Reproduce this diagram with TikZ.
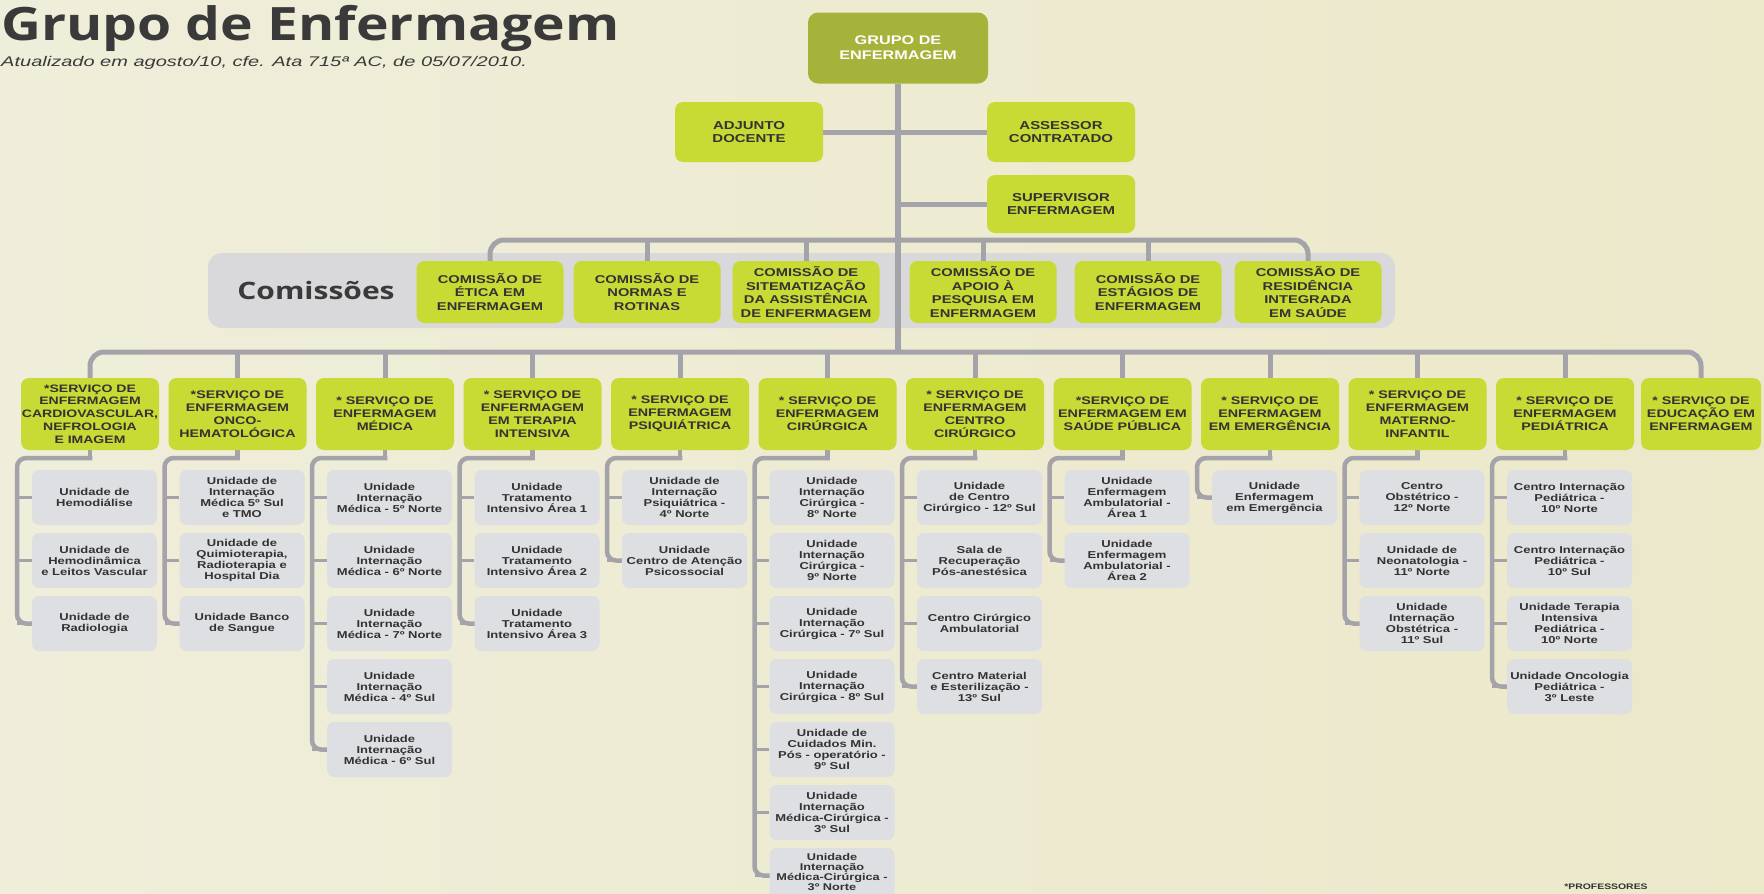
\documentclass[tikz,border=0pt]{standalone}
\usepackage{fontspec}
\setmainfont{Liberation Sans}
\newfontfamily\bx[FakeStretch=1.3]{Liberation Sans}
\newfontfamily\ttlf[FakeStretch=1.2]{Open Sans}
\newfontfamily\cmsf[FakeStretch=1.25]{Open Sans}
\newfontfamily\subtf[FakeStretch=1.43]{Liberation Sans}
\usetikzlibrary{calc}
\pgfdeclarelayer{back}\pgfdeclarelayer{mid}\pgfsetlayers{back,mid,main}
\definecolor{limec}{HTML}{C8DA34}
\definecolor{olivec}{HTML}{A6B33A}
\definecolor{subc}{HTML}{DEDFE2}
\definecolor{connc}{HTML}{A3A3A9}
\definecolor{bandc}{HTML}{D9D9DB}
\definecolor{txtc}{HTML}{333333}
\definecolor{ttlc}{HTML}{3A3A3A}
\definecolor{bgL}{HTML}{EFEEDA}
\definecolor{bgM}{HTML}{F6F4EA}
\definecolor{bgR}{HTML}{ECE8CA}
\tikzset{
  lime/.style={fill=limec, rounded corners=8pt, inner sep=0pt, align=center, text=txtc},
  topbox/.style={fill=olivec, rounded corners=10pt, inner sep=0pt, align=center, text=white,
    minimum width=180pt, minimum height=71pt, font=\bx\bfseries\fontsize{12.5}{15}\selectfont},
  side/.style={lime, minimum width=148pt, minimum height=60pt, font=\bx\bfseries\fontsize{11.5}{12.5}\selectfont},
  com/.style={lime, minimum width=147pt, minimum height=62pt, font=\bx\bfseries\fontsize{11.3}{13.5}\selectfont},
  svc/.style={lime, minimum width=138pt, minimum height=72pt, font=\bx\bfseries\fontsize{11}{13}\selectfont},
  sub/.style={fill=subc, rounded corners=7pt, minimum width=125pt, minimum height=55pt, inner sep=0pt,
    align=center, text=txtc, font=\bx\bfseries\fontsize{10}{11}\selectfont},
  trunk/.style={draw=connc, line width=6pt},
  bar/.style={draw=connc, line width=5pt},
  subln/.style={draw=connc, line width=4.5pt, line cap=rect},
  stub/.style={draw=connc, line width=3.5pt},
}
\newcommand\sbx[3]{\node[sub] (u#1-#2) at ({94.5+147.5*(#1-1)},{497.5+63*(#2-1)}) {#3};}
\newcommand\colconn[2]{%
  \coordinate (t#1) at ({17+147.5*(#1-1)},458);
  \begin{pgfonlayer}{mid}
  \draw[subln] (s#1.south) -- (s#1.south |- t#1);
  \draw[subln,rounded corners=9pt] (s#1.south |- t#1) -- (t#1) |- (u#1-#2.west);
  \foreach \j in {1,...,#2}{\draw[stub] (u#1-\j.west) -- (u#1-\j.west -| t#1);}
  \end{pgfonlayer}}
\begin{document}
\begin{tikzpicture}[x=1pt,y=-1pt]
\useasboundingbox (0,0) rectangle (1764,894);
\begin{pgfonlayer}{back}
\shade[left color=bgL, middle color=bgM, right color=bgR] (0,0) rectangle (1764,894);
\node[fill=bandc, rounded corners=14pt, minimum width=1187pt, minimum height=75pt, inner sep=0pt] (band) at (801.5,290.5) {};
\end{pgfonlayer}

% title
\node[anchor=base west, inner sep=0pt, text=ttlc, font=\ttlf\bfseries\fontsize{46}{52}\selectfont] (title) at (1,40) {Grupo de Enfermagem};
\node[anchor=base west, inner sep=0pt, text=ttlc, font=\subtf\itshape\fontsize{14}{16}\selectfont] (subtitle) at (1,66) {Atualizado em agosto/10, cfe. Ata 715ª AC, de 05/07/2010.};

% top
\node[topbox] (top) at (898,48) {GRUPO DE\\ENFERMAGEM};
\node[side] (adj) at (749,132) {ADJUNTO\\DOCENTE};
\node[side] (ass) at (1061,132) {ASSESSOR\\CONTRATADO};
\node[side, minimum height=58pt] (sup) at (1061,204) {SUPERVISOR\\ENFERMAGEM};
\coordinate (hub) at (898,352);
\coordinate (chub) at (898,240);

% commissions
\node[inner sep=0pt, text=ttlc, font=\cmsf\bfseries\fontsize{24}{28}\selectfont] (comtitle) at (316,290) {Comissões};
\node[com] (c1) at (490,292) {COMISSÃO DE\\ÉTICA EM\\ENFERMAGEM};
\node[com] (c2) at (647,292) {COMISSÃO DE\\NORMAS E\\ROTINAS};
\node[com] (c3) at (806,292) {COMISSÃO DE\\SITEMATIZAÇÃO\\DA ASSISTÊNCIA\\DE ENFERMAGEM};
\node[com] (c4) at (983,292) {COMISSÃO DE\\APOIO À\\PESQUISA EM\\ENFERMAGEM};
\node[com] (c5) at (1148,292) {COMISSÃO DE\\ESTÁGIOS DE\\ENFERMAGEM};
\node[com] (c6) at (1308,292) {COMISSÃO DE\\RESIDÊNCIA\\INTEGRADA\\EM SAÚDE};

% services
\node[svc, font=\bx\bfseries\fontsize{10.8}{12.8}\selectfont] (s1) at (90,414) {*SERVIÇO DE\\ENFERMAGEM\\CARDIOVASCULAR,\\NEFROLOGIA\\E IMAGEM};
\node[svc] (s2) at (237.5,414) {*SERVIÇO DE\\ENFERMAGEM\\ONCO-\\HEMATOLÓGICA};
\node[svc] (s3) at (385,414) {* SERVIÇO DE\\ENFERMAGEM\\MÉDICA};
\node[svc] (s4) at (532.5,414) {* SERVIÇO DE\\ENFERMAGEM\\EM TERAPIA\\INTENSIVA};
\node[svc] (s5) at (680,414) {* SERVIÇO DE\\ENFERMAGEM\\PSIQUIÁTRICA};
\node[svc] (s6) at (827.5,414) {* SERVIÇO DE\\ENFERMAGEM\\CIRÚRGICA};
\node[svc] (s7) at (975,414) {* SERVIÇO DE\\ENFERMAGEM\\CENTRO\\CIRÚRGICO};
\node[svc] (s8) at (1122.5,414) {*SERVIÇO DE\\ENFERMAGEM EM\\SAÚDE PÚBLICA};
\node[svc] (s9) at (1270,414) {* SERVIÇO DE\\ENFERMAGEM\\EM EMERGÊNCIA};
\node[svc] (s10) at (1417.5,414) {* SERVIÇO DE\\ENFERMAGEM\\MATERNO-\\INFANTIL};
\node[svc] (s11) at (1565,414) {* SERVIÇO DE\\ENFERMAGEM\\PEDIÁTRICA};
\node[svc, minimum width=120pt] (s12) at (1701,414) {* SERVIÇO DE\\EDUCAÇÃO EM\\ENFERMAGEM};

% sub units
\sbx{1}{1}{Unidade de\\Hemodiálise}
\sbx{1}{2}{Unidade de\\Hemodinâmica\\e Leitos Vascular}
\sbx{1}{3}{Unidade de\\Radiologia}
\sbx{2}{1}{Unidade de\\Internação\\Médica 5º Sul\\e TMO}
\sbx{2}{2}{Unidade de\\Quimioterapia,\\Radioterapia e\\Hospital Dia}
\sbx{2}{3}{Unidade Banco\\de Sangue}
\sbx{3}{1}{Unidade\\Internação\\Médica - 5º Norte}
\sbx{3}{2}{Unidade\\Internação\\Médica - 6º Norte}
\sbx{3}{3}{Unidade\\Internação\\Médica - 7º Norte}
\sbx{3}{4}{Unidade\\Internação\\Médica - 4º Sul}
\sbx{3}{5}{Unidade\\Internação\\Médica - 6º Sul}
\sbx{4}{1}{Unidade\\Tratamento\\Intensivo Área 1}
\sbx{4}{2}{Unidade\\Tratamento\\Intensivo Área 2}
\sbx{4}{3}{Unidade\\Tratamento\\Intensivo Área 3}
\sbx{5}{1}{Unidade de\\Internação\\Psiquiátrica -\\4º Norte}
\sbx{5}{2}{Unidade\\Centro de Atenção\\Psicossocial}
\sbx{6}{1}{Unidade\\Internação\\Cirúrgica -\\8º Norte}
\sbx{6}{2}{Unidade\\Internação\\Cirúrgica -\\9º Norte}
\sbx{6}{3}{Unidade\\Internação\\Cirúrgica - 7º Sul}
\sbx{6}{4}{Unidade\\Internação\\Cirúrgica - 8º Sul}
\sbx{6}{5}{Unidade de\\Cuidados Min.\\Pós - operatório -\\9º Sul}
\sbx{6}{6}{Unidade\\Internação\\Médica-Cirúrgica -\\3º Sul}
\node[sub, font=\bx\bfseries\fontsize{9.8}{10}\selectfont] (u6-7) at (832,875.5) {Unidade\\Internação\\Médica-Cirúrgica -\\3º Norte\rule[-7pt]{0pt}{0pt}};
\sbx{7}{1}{Unidade\\de Centro\\Cirúrgico - 12º Sul}
\sbx{7}{2}{Sala de\\Recuperação\\Pós-anestésica}
\sbx{7}{3}{Centro Cirúrgico\\Ambulatorial}
\sbx{7}{4}{Centro Material\\e Esterilização -\\13º Sul}
\sbx{8}{1}{Unidade\\Enfermagem\\Ambulatorial -\\Área 1}
\sbx{8}{2}{Unidade\\Enfermagem\\Ambulatorial -\\Área 2}
\sbx{9}{1}{Unidade\\Enfermagem\\em Emergência}
\sbx{10}{1}{Centro\\Obstétrico -\\12º Norte}
\sbx{10}{2}{Unidade de\\Neonatologia -\\11º Norte}
\sbx{10}{3}{Unidade\\Internação\\Obstétrica -\\11º Sul}
\sbx{11}{1}{Centro Internação\\Pediátrica -\\10º Norte}
\sbx{11}{2}{Centro Internação\\Pediátrica -\\10º Sul}
\sbx{11}{3}{Unidade Terapia\\Intensiva\\Pediátrica -\\10º Norte}
\sbx{11}{4}{Unidade Oncologia\\Pediátrica -\\3º Leste}

\node[inner sep=0pt, text=txtc, font=\bx\bfseries\fontsize{8}{9}\selectfont] (prof) at (1606,887) {*PROFESSORES};

% connectors
\begin{pgfonlayer}{mid}
\draw[trunk] (top.south) -- (hub);
\draw[bar] (adj.east) -- (ass.west);
\draw[bar] (sup.west) -- (sup.west -| hub);
\draw[bar, rounded corners=14pt] (c1.north) |- (chub) -| (c6.north);
\foreach \i in {2,3,4,5}{\draw[bar] (c\i.north) -- (c\i.north |- chub);}
\draw[bar, rounded corners=14pt] (s1.north) |- (hub) -| (s12.north);
\foreach \i in {2,...,11}{\draw[bar] (s\i.north) -- (s\i.north |- hub);}
\end{pgfonlayer}
\colconn{1}{3}
\colconn{2}{3}
\colconn{3}{5}
\colconn{4}{3}
\colconn{5}{2}
\colconn{6}{7}
\colconn{7}{4}
\colconn{8}{2}
\colconn{9}{1}
\colconn{10}{3}
\colconn{11}{4}
\end{tikzpicture}
\end{document}
